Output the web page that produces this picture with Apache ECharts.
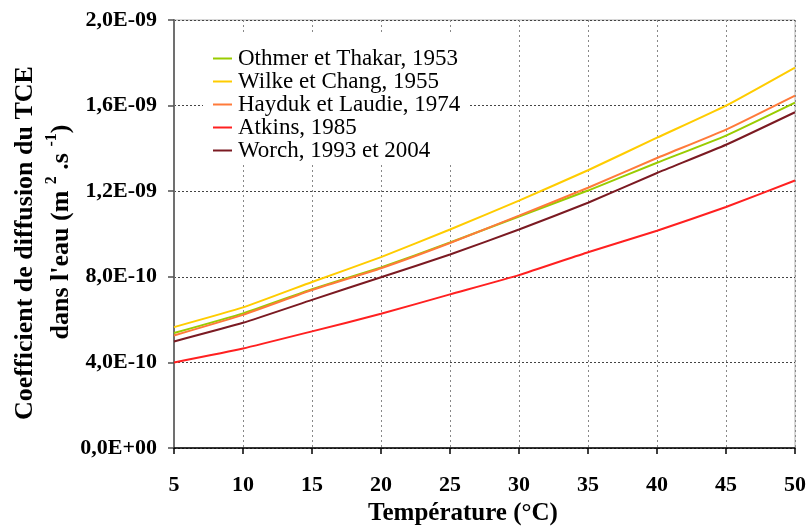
<!DOCTYPE html>
<html>
<head>
<meta charset="utf-8">
<script src="https://cdn.jsdelivr.net/npm/echarts@6/dist/echarts.min.js"></script>
<style>html,body{margin:0;padding:0;background:#fff}#c{width:809px;height:526px}</style>
</head>
<body>
<div id="c"></div>
<script>
var temperatures = [5, 10, 15, 20, 25, 30, 35, 40, 45, 50];
var seriesNames = ['Othmer et Thakar, 1953', 'Wilke et Chang, 1955', 'Hayduk et Laudie, 1974', 'Atkins, 1985', 'Worch, 1993 et 2004'];
var othmer = [5.37e-10, 6.29e-10, 7.42e-10, 8.44e-10, 9.60e-10, 10.82e-10, 12.03e-10, 13.33e-10, 14.60e-10, 16.14e-10];
var wilke  = [5.65e-10, 6.57e-10, 7.76e-10, 8.92e-10, 10.21e-10, 11.56e-10, 12.98e-10, 14.50e-10, 16.00e-10, 17.78e-10];
var hayduk = [5.26e-10, 6.22e-10, 7.38e-10, 8.40e-10, 9.58e-10, 10.86e-10, 12.16e-10, 13.55e-10, 14.88e-10, 16.47e-10];
var atkins = [4.00e-10, 4.65e-10, 5.45e-10, 6.27e-10, 7.18e-10, 8.08e-10, 9.15e-10, 10.15e-10, 11.26e-10, 12.50e-10];
var worch  = [4.98e-10, 5.85e-10, 6.92e-10, 7.98e-10, 9.04e-10, 10.21e-10, 11.46e-10, 12.85e-10, 14.17e-10, 15.69e-10];
var colors = ['#99cc00', '#ffcc00', '#ff7a3a', '#ff2020', '#7b1a22'];
var allValues = [othmer, wilke, hayduk, atkins, worch];

function fmtSci(v) {
  if (Math.abs(v) < 1e-30) return '0,0E+00';
  var e = Math.floor(Math.log10(Math.abs(v)) + 1e-9);
  var m = v / Math.pow(10, e);
  var s = m.toFixed(1).replace('.', ',');
  var es = (e < 0 ? '-' : '+') + (Math.abs(e) < 10 ? '0' : '') + Math.abs(e);
  return s + 'E' + es;
}

var font = "'Liberation Serif', 'Times New Roman', serif";
var chart = echarts.init(document.getElementById('c'), null, {renderer: 'canvas'});
var series = seriesNames.map(function (n, i) {
  return {
    name: n,
    type: 'line',
    data: temperatures.map(function (t, k) { return [t, allValues[i][k]]; }),
    symbol: 'none',
    smooth: 0.15,
    lineStyle: {color: colors[i], width: 2},
    itemStyle: {color: colors[i]},
    z: 3
  };
});

chart.setOption({
  animation: false,
  backgroundColor: '#fff',
  grid: {left: 174, right: 11, top: 20, bottom: 78, show: true, borderColor: '#b0b0b0', borderWidth: 1, backgroundColor: 'transparent'},
  legend: {
    orient: 'vertical',
    left: 203,
    top: 35,
    padding: [12, 8, 3, 10],
    backgroundColor: '#fff',
    itemGap: 0,
    itemWidth: 19,
    itemHeight: 2,
    icon: 'rect',
    data: seriesNames,
    textStyle: {fontFamily: font, fontSize: 23, color: '#000', lineHeight: 21.5, padding: [0, 0, 0, 1]}
  },
  xAxis: {
    type: 'value',
    min: 5, max: 50, interval: 5,
    axisLine: {show: true, lineStyle: {color: '#000', width: 1.5}},
    axisTick: {show: true, inside: false, length: 6, lineStyle: {color: '#000', width: 1.5}},
    axisLabel: {margin: 26, fontFamily: font, fontWeight: 'bold', fontSize: 22, color: '#000'},
    splitLine: {show: true, lineStyle: {type: [2, 3], color: '#888', width: 1}}
  },
  yAxis: {
    type: 'value',
    min: 0, max: 2e-9, interval: 4e-10,
    axisLine: {show: true, lineStyle: {color: '#707070', width: 2}},
    axisTick: {show: true, inside: false, length: 6, lineStyle: {color: '#505050', width: 1.5}},
    axisLabel: {margin: 17, fontFamily: font, fontWeight: 'bold', fontSize: 22, color: '#000', formatter: fmtSci},
    splitLine: {show: true, lineStyle: {type: [2, 2], color: '#444', width: 1}}
  },
  graphic: [
    {
      type: 'text', x: 463, y: 514, z: 10,
      style: {text: 'Température (°C)', font: "bold 25px " + font, fill: '#000', align: 'center', verticalAlign: 'middle'}
    },
    {
      type: 'text', x: 25, y: 243, rotation: Math.PI / 2, z: 10,
      style: {text: 'Coefficient de diffusion du TCE', font: "bold 26px " + font, fill: '#000', align: 'center', verticalAlign: 'middle'}
    },
    {
      type: 'text', x: 59, y: 232, rotation: Math.PI / 2, z: 10,
      style: {
        text: "{n|dans l'eau (m }{s|2}{n| .s }{s|-1}{n|)}",
        align: 'center', verticalAlign: 'middle',
        rich: {
          n: {fontFamily: font, fontWeight: 'bold', fontSize: 26, fill: '#000', color: '#000', lineHeight: 30, verticalAlign: 'bottom'},
          s: {fontFamily: font, fontWeight: 'bold', fontSize: 16, fill: '#000', color: '#000', lineHeight: 30, verticalAlign: 'top'}
        }
      }
    }
  ],
  series: series
});
</script>
</body>
</html>
